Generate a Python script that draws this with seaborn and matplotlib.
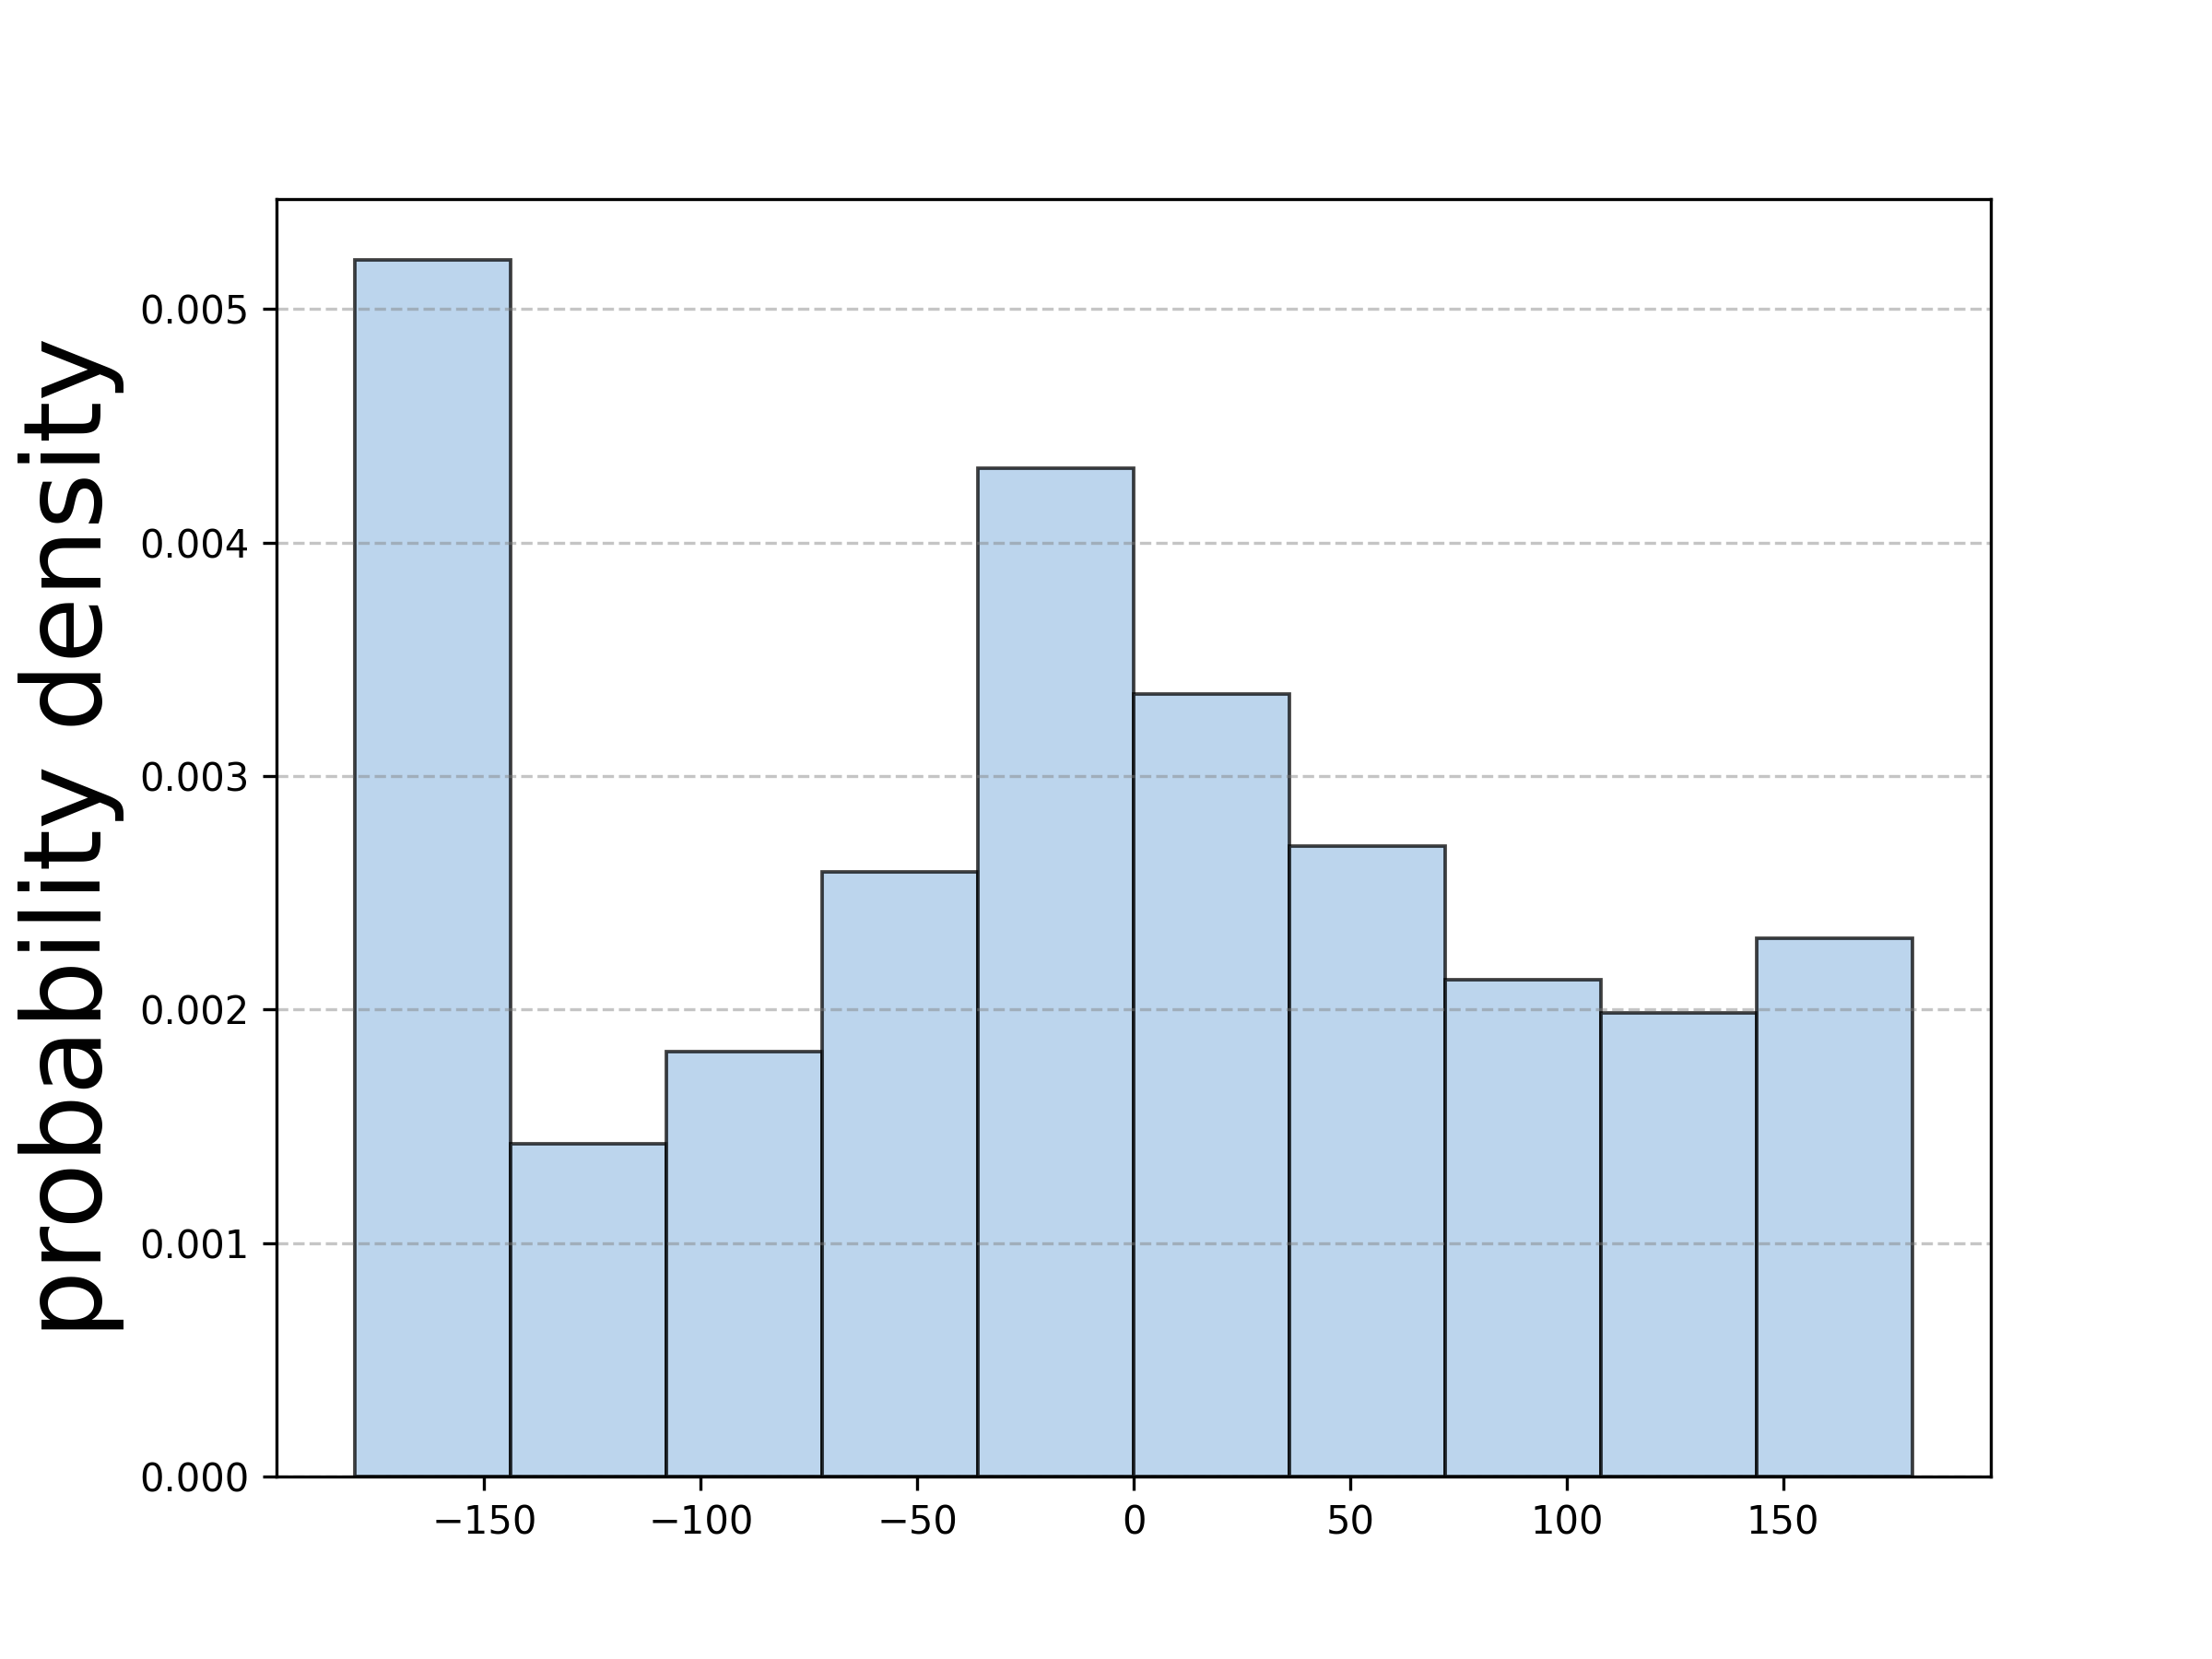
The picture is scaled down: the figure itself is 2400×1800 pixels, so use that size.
import numpy as np
import matplotlib
matplotlib.use("Agg")
import matplotlib.pyplot as plt
import seaborn as sns

# bin edges (degrees) and the density of each bin
bin_edges = [-180, -144, -108, -72, -36, 0, 36, 72, 108, 144, 180]
densities = [0.005211, 0.001425, 0.001818, 0.00259, 0.004318,
             0.00335, 0.0027, 0.002126, 0.001987, 0.002307]

centers = [(a + b) / 2 for a, b in zip(bin_edges[:-1], bin_edges[1:])]

fig, ax = plt.subplots(figsize=(8, 6), dpi=300)

sns.histplot(x=centers, weights=densities, bins=bin_edges, stat="count",
             color="#a6c8e8", edgecolor=(0, 0, 0, 0.75), linewidth=0.9,
             alpha=0.75, ax=ax)

# grid stays above the bars (default axisbelow='line')
ax.grid(axis="y", linestyle="--", color="gray", alpha=0.45, linewidth=0.8)
ax.set_ylabel("probability density", fontsize=28)
ax.set_xlabel("")

fig.savefig("out.png", dpi=300)
